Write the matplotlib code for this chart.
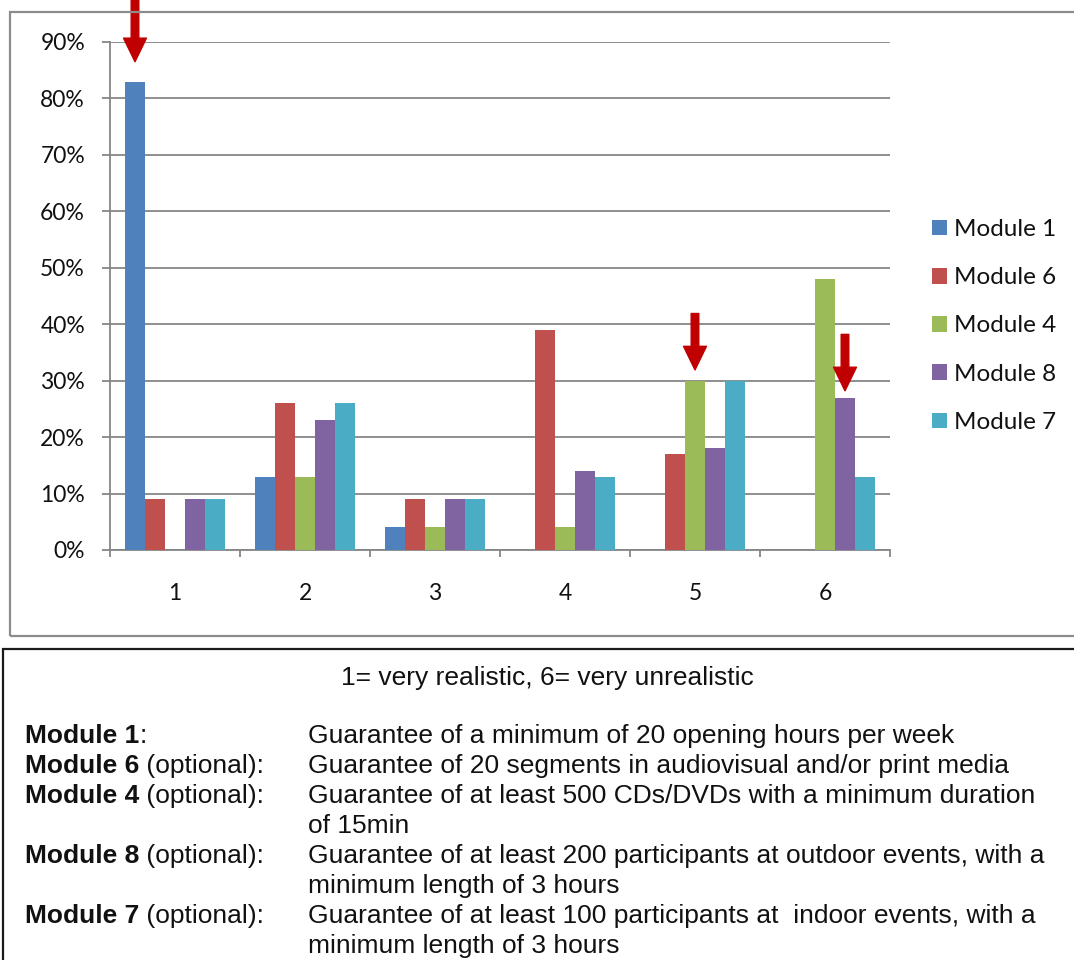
import matplotlib
matplotlib.use("Agg")
import matplotlib.pyplot as plt
from matplotlib.patches import Rectangle, FancyArrowPatch, ArrowStyle
import numpy as np

# Survey answers: share of respondents per rating (1 = very realistic ... 6 = very unrealistic)
ratings = ["1", "2", "3", "4", "5", "6"]
series_names = ["Module 1", "Module 6", "Module 4", "Module 8", "Module 7"]
module_1 = [0.83, 0.13, 0.04, 0.00, 0.00, 0.00]
module_6 = [0.09, 0.26, 0.09, 0.39, 0.17, 0.00]
module_4 = [0.00, 0.13, 0.04, 0.04, 0.30, 0.48]
module_8 = [0.09, 0.23, 0.09, 0.14, 0.18, 0.27]
module_7 = [0.09, 0.26, 0.09, 0.13, 0.30, 0.13]
series_colors = ["#4F81BD", "#C0504D", "#9BBB59", "#8064A2", "#4BACC6"]
y_ticks = [0.0, 0.1, 0.2, 0.3, 0.4, 0.5, 0.6, 0.7, 0.8, 0.9]

# Highlighted bars: (rating index, series index)
highlights = [(0, 0), (4, 2), (5, 3)]

scale_note = "1= very realistic, 6= very unrealistic"
module_labels = ["Module 1", "Module 6", "Module 4", "Module 8", "Module 7"]
module_suffix = [":", " (optional):", " (optional):", " (optional):", " (optional):"]
module_text = [
    ["Guarantee of a minimum of 20 opening hours per week"],
    ["Guarantee of 20 segments in audiovisual and/or print media"],
    ["Guarantee of at least 500 CDs/DVDs with a minimum duration", "of 15min"],
    ["Guarantee of at least 200 participants at outdoor events, with a",
     "minimum length of 3 hours"],
    ["Guarantee of at least 100 participants at  indoor events, with a",
     "minimum length of 3 hours"],
]

W, H = 1074, 960
DPI = 100
fig = plt.figure(figsize=(W / DPI, H / DPI), dpi=DPI)
fig.patch.set_facecolor("white")


def fx(px):
    return px / W


def fy(py):
    return 1 - py / H


chart_font = "Lato"
note_font = "Liberation Sans"
grey = "#868686"
ink = "#111111"

# Outer chart frame and the caption box below it
fig.add_artist(Rectangle((fx(10), fy(636)), fx(1090) - fx(10), fy(12) - fy(636),
                         transform=fig.transFigure, fill=False,
                         edgecolor="#8C8C8C", linewidth=1.6))
fig.add_artist(Rectangle((fx(3), fy(990)), fx(1090) - fx(3), fy(649) - fy(990),
                         transform=fig.transFigure, fill=False,
                         edgecolor="#1A1A1A", linewidth=1.6))

# Plot area
ax = fig.add_axes([fx(110), fy(550), fx(890) - fx(110), fy(42) - fy(550)])
ax.set_facecolor("white")
values = np.array([module_1, module_6, module_4, module_8, module_7])
x = np.arange(1, len(ratings) + 1)
bar_w = 20 / 130
offsets = (np.arange(len(series_names)) - 2) * bar_w
for i, name in enumerate(series_names):
    ax.bar(x + offsets[i], values[i], width=bar_w, color=series_colors[i],
           label=name, edgecolor="none", zorder=3)

ax.set_xlim(0.5, len(ratings) + 0.5)
ax.set_ylim(0, 0.9)
ax.set_yticks(y_ticks)
ax.set_yticklabels([f"{int(round(v * 100))}%" for v in y_ticks])
ax.yaxis.grid(True, color=grey, linewidth=1.3, zorder=0)
ax.set_axisbelow(True)

# Category boundaries carry tick marks, category centres carry labels
ax.set_xticks(np.arange(0.5, len(ratings) + 1, 1.0))
ax.set_xticklabels([])
ax.set_xticks(x, minor=True)
ax.set_xticklabels(ratings, minor=True)
ax.tick_params(axis="x", which="major", length=5, width=1.3, color=grey,
               direction="out")
ax.tick_params(axis="x", which="minor", length=0, pad=24, labelsize=16.5)
ax.tick_params(axis="y", length=6, width=1.3, color=grey, pad=12, labelsize=16.5)
for lab in ax.get_xticklabels(minor=True) + ax.get_yticklabels():
    lab.set_fontfamily(chart_font)
    lab.set_color(ink)

for side in ("top", "right"):
    ax.spines[side].set_visible(False)
for side in ("left", "bottom"):
    ax.spines[side].set_color(grey)
    ax.spines[side].set_linewidth(1.3)

# Red arrows pointing down onto the highlighted bars
arrow_gap = [0.035, 0.019, 0.012]
arrow_len = [0.13, 0.10, 0.10]
for (cat, ser), gap, length in zip(highlights, arrow_gap, arrow_len):
    xc = x[cat] + offsets[ser]
    tip = values[ser][cat] + gap
    tail = tip + length
    arr = FancyArrowPatch((xc, tail), (xc, tip),
                          arrowstyle=ArrowStyle.Simple(head_length=17,
                                                       head_width=16.5,
                                                       tail_width=5.5),
                          mutation_scale=1, color="#C00000",
                          shrinkA=0, shrinkB=0, clip_on=False, zorder=5)
    ax.add_patch(arr)

# Legend on the right of the plot
leg = fig.legend(loc="center left", bbox_to_anchor=(fx(932), fy(326)),
                 frameon=False, borderpad=0, borderaxespad=0,
                 handlelength=0.62, handleheight=0.62, handletextpad=0.3,
                 labelspacing=1.12,
                 prop={"family": chart_font, "size": 17.5})
for t in leg.get_texts():
    t.set_color(ink)

# Caption box text
note_size = 19
fig.text(fx(547), fy(678), scale_note, ha="center", va="center",
         family=note_font, fontsize=note_size, color=ink)

line_h = 30
row = 0
y0 = 736
for lab, suf, lines in zip(module_labels, module_suffix, module_text):
    yy = fy(y0 + row * line_h)
    bold = fig.text(fx(25), yy, lab, ha="left", va="center",
                    family=note_font, fontsize=note_size, fontweight="bold",
                    color=ink)
    ax.annotate(suf, xy=(1, 0), xycoords=bold, ha="left", va="bottom",
                family=note_font, fontsize=note_size, color=ink,
                annotation_clip=False)
    for ln in lines:
        fig.text(fx(308), fy(y0 + row * line_h), ln, ha="left", va="center",
                 family=note_font, fontsize=note_size, color=ink)
        row += 1

fig.savefig("out.png", dpi=DPI, facecolor="white")
